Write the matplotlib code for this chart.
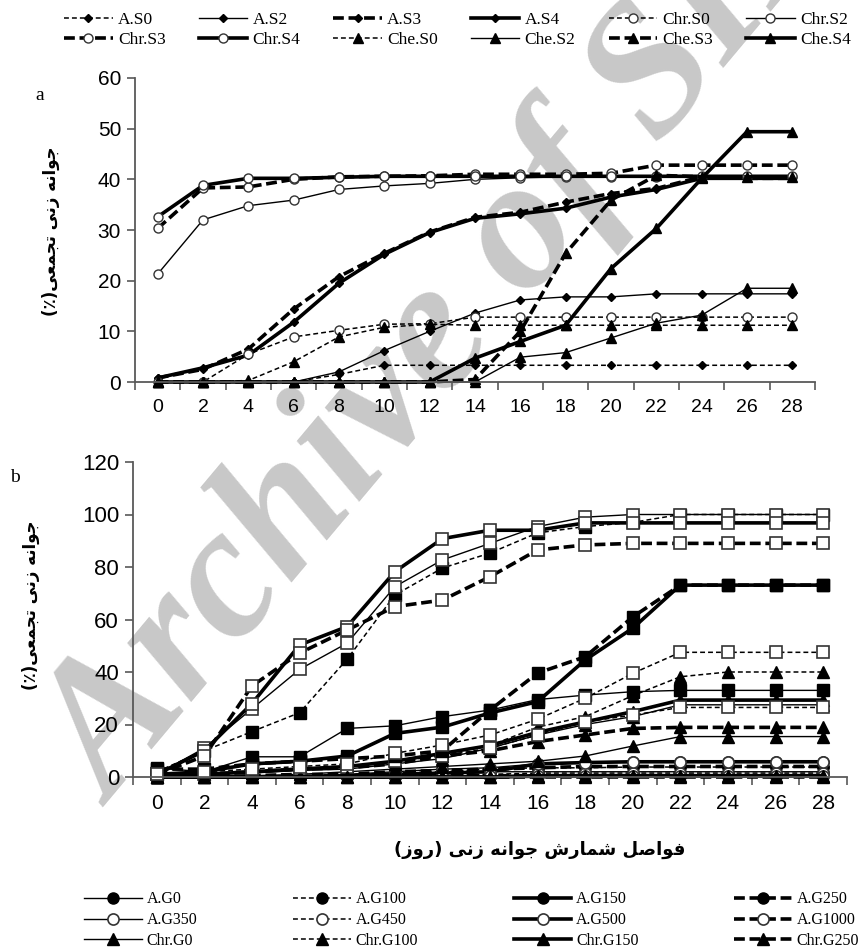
import numpy as np
import matplotlib.pyplot as plt

# ---------- data ----------
days = list(range(0, 29, 2))

# chart a : cumulative germination (%)
a_s0 = [0, 0, 0, 0, 1.5, 3.3, 3.3, 3.3, 3.3, 3.3, 3.3, 3.3, 3.3, 3.3, 3.3]
a_s2 = [0, 0, 0, 0, 2, 6.2, 10, 13.6, 16.2, 16.8, 16.8, 17.4, 17.4, 17.4, 17.4]
a_s3 = [0.8, 2.5, 6.5, 14.4, 20.8, 25.4, 29.6, 32.5, 33.5, 35.5, 37.2, 38.2, 40.5, 40.2, 40.2]
a_s4 = [0.8, 2.8, 5.3, 11.8, 19.5, 25.2, 29.5, 32.3, 33.2, 34.3, 36.5, 38, 40.2, 40.2, 40.2]
chr_s0 = [0, 0, 5.5, 8.9, 10.2, 11.4, 11.5, 12.8, 12.8, 12.8, 12.8, 12.8, 12.8, 12.8, 12.8]
chr_s2 = [21.3, 32, 34.8, 35.9, 38, 38.7, 39.2, 40, 40.3, 40.5, 40.5, 40.5, 40.5, 40.5, 40.5]
chr_s3 = [30.3, 38.3, 38.5, 40, 40.5, 40.6, 40.7, 41, 41, 41, 41.2, 42.8, 42.8, 42.8, 42.8]
chr_s4 = [32.6, 38.8, 40.2, 40.2, 40.4, 40.6, 40.6, 40.6, 40.6, 40.6, 40.6, 40.6, 40.6, 40.6, 40.6]
che_s0 = [0, 0, 0.3, 4, 8.9, 10.8, 11.4, 11.2, 11.2, 11.2, 11.2, 11.2, 11.2, 11.2, 11.2]
che_s2 = [0, 0, 0, 0, 0, 0, 0, 0, 4.9, 5.8, 8.7, 11.6, 13.2, 18.5, 18.5]
che_s3 = [0, 0, 0, 0, 0, 0, 0, 0.5, 10, 25.4, 35.9, 40.8, 40.5, 40.5, 40.5]
che_s4 = [0, 0, 0, 0, 0, 0, 0, 4.7, 8, 11.2, 22.4, 30.3, 40.2, 49.4, 49.4]

# chart b
a_g0 = [0, 0, 0, 0, 0.5, 1, 1.5, 2, 2, 2, 2, 2, 2, 2, 2]
a_g100 = [0, 0, 0, 0.5, 1, 1.5, 2, 3, 3.5, 3.5, 3.8, 3.8, 3.8, 3.8, 3.8]
a_g150 = [0, 0, 0, 0, 0, 0, 0, 0, 0.3, 0.3, 0.3, 0.3, 0.3, 0.3, 0.3]
a_g250 = [0, 0, 0.5, 1, 1, 2, 2.5, 3, 3.5, 4, 4, 4, 4, 4, 4]
a_g350 = [0, 0, 0, 0.5, 1, 2, 3, 3.5, 5, 5.5, 5.8, 5.8, 5.8, 5.8, 5.8]
a_g450 = [0, 0, 0, 0, 0, 0.5, 1, 1, 1.5, 1.5, 1.5, 1.5, 1.5, 1.5, 1.5]
a_g500 = [0, 0, 0, 0, 0.5, 1, 1.5, 2, 5, 5.5, 5.8, 5.8, 5.8, 5.8, 5.8]
a_g1000 = [0, 0, 0, 0, 0, 0, 0.5, 0.5, 0.5, 0.5, 0.5, 0.5, 0.5, 0.5, 0.5]
chr_g0 = [0, 0, 0.5, 1, 2, 3, 4, 5, 6, 8, 11.8, 15.4, 15.4, 15.4, 15.4]
chr_g100 = [0, 1, 2, 3, 4, 6, 9, 12, 19, 23, 31, 38.2, 40, 40, 40]
chr_g150 = [0, 1, 2, 3, 4, 6, 9, 12, 17, 21, 24.9, 29.3, 29.3, 29.3, 29.3]
chr_g250 = [0, 1, 2, 3, 3.5, 5, 8, 10, 13.5, 16, 18.5, 18.9, 18.9, 18.9, 18.9]
chr_g350 = [0, 1, 1.5, 2.5, 3, 5, 7, 11, 16, 20, 23, 27.5, 27.5, 27.5, 27.5]
chr_g450 = [1, 1, 2, 3, 4, 6, 8, 11, 16, 21, 23.6, 26.5, 26.5, 26.5, 26.5]
chr_g500 = [0, 0, 0, 0, 0, 0, 0, 0, 0.5, 0.5, 0.5, 0.5, 0.5, 0.5, 0.5]
chr_g1000 = [0, 0, 0, 0, 0, 0, 0, 0, 0, 0, 0, 0, 0, 0, 0]
che_g0 = [3.4, 2, 7.7, 7.7, 18.5, 19.5, 23, 25.5, 29.5, 31.2, 32.5, 33, 33, 33, 33]
che_g100 = [2, 10, 17.3, 24.5, 44.9, 69.3, 79.6, 85.3, 93, 95.4, 97, 100, 100, 100, 100]
che_g150 = [1, 2, 5, 6, 8, 16.6, 19, 24.4, 28.7, 44.6, 56.7, 73.1, 73.1, 73.1, 73.1]
che_g250 = [3, 3, 5, 6, 7, 8, 10, 25.5, 39.6, 45.8, 61, 73.1, 73.1, 73.1, 73.1]
che_g350 = [1, 11, 26, 41, 51, 72.5, 82.7, 89, 95.4, 99, 100, 100, 100, 100, 100]
che_g450 = [1, 2, 3, 4, 5, 9, 12.2, 16, 22, 30, 39.5, 47.5, 47.5, 47.5, 47.5]
che_g500 = [1, 10, 28, 50.3, 57.3, 78.2, 90.8, 94, 94, 96.8, 96.8, 96.8, 96.8, 96.8, 96.8]
che_g1000 = [1, 8, 34.7, 47.2, 56, 64.9, 67.4, 76.3, 86.5, 88.4, 89, 89, 89, 89, 89]

# Persian labels (presentation forms, visual order, since matplotlib has no RTL shaping)
ylabel_fa = "(\u066a)\ufef0\ufecc\ufee4\ufea0\ufe97 \ufef0\ufee7\ufeaf \ufeea\ufee7\ufe8d\ufeee\ufe9f"
xlabel_fa = ("(\ufeaf\ufeed\ufead) \ufef0\ufee7\ufeaf \ufeea\ufee7\ufe8d\ufeee\ufe9f "
             "\ufeb5\ufead\ufe8e\ufee4\ufeb7 \ufede\ufebb\ufe8d\ufeee\ufed3")

# ---------- styles ----------
LINES = {
    "thin": dict(lw=1.0, ls="-"),
    "thin_dash": dict(lw=1.1, ls=(0, (3.2, 2.0))),
    "thick": dict(lw=2.6, ls="-"),
    "thick_dash": dict(lw=2.6, ls=(0, (3.0, 1.3))),
}
MARKS = {
    "diamond": dict(marker="D", ms=4.5, mfc="black", mec="black"),
    "circ_open": dict(marker="o", ms=6.5, mfc="white", mec="#333333", mew=1.0),
    "tri": dict(marker="^", ms=6.5, mfc="black", mec="black"),
    "circ": dict(marker="o", ms=8, mfc="black", mec="black"),
    "circ_o": dict(marker="o", ms=8, mfc="white", mec="#333333", mew=1.2),
    "tri_b": dict(marker="^", ms=8, mfc="black", mec="black"),
    "sq": dict(marker="s", ms=8.5, mfc="black", mec="black"),
    "sq_o": dict(marker="s", ms=8.5, mfc="white", mec="#333333", mew=1.2),
}

treat_a = ["thin_dash", "thin", "thick_dash", "thick"]
series_a = [
    ("A.S0", a_s0), ("A.S2", a_s2), ("A.S3", a_s3), ("A.S4", a_s4),
    ("Chr.S0", chr_s0), ("Chr.S2", chr_s2), ("Chr.S3", chr_s3), ("Chr.S4", chr_s4),
    ("Che.S0", che_s0), ("Che.S2", che_s2), ("Che.S3", che_s3), ("Che.S4", che_s4),
]
marks_a = ["diamond"] * 4 + ["circ_open"] * 4 + ["tri"] * 4

treat_b = ["thin", "thin_dash", "thick", "thick_dash"] * 2
series_b = [
    ("A.G0", a_g0), ("A.G100", a_g100), ("A.G150", a_g150), ("A.G250", a_g250),
    ("A.G350", a_g350), ("A.G450", a_g450), ("A.G500", a_g500), ("A.G1000", a_g1000),
    ("Chr.G0", chr_g0), ("Chr.G100", chr_g100), ("Chr.G150", chr_g150), ("Chr.G250", chr_g250),
    ("Chr.G350", chr_g350), ("Chr.G450", chr_g450), ("Chr.G500", chr_g500), ("Chr.G1000", chr_g1000),
    ("Che.G0", che_g0), ("Che.G100", che_g100), ("Che.G150", che_g150), ("Che.G250", che_g250),
    ("Che.G350", che_g350), ("Che.G450", che_g450), ("Che.G500", che_g500), ("Che.G1000", che_g1000),
]
marks_b = (["circ"] * 4 + ["circ_o"] * 4 + ["tri_b"] * 4
           + ["tri_b", "sq_o", "tri_b", "tri_b"] + ["sq"] * 4 + ["sq_o"] * 4)

W, H = 863, 951
fig = plt.figure(figsize=(W / 100, H / 100), dpi=100)

# watermark, behind the axes
fig.text(113 / W, 1 - 807 / H, "Archive of SID", rotation=50, rotation_mode="anchor",
         ha="left", va="baseline", fontsize=135, family="Liberation Serif",
         style="italic", weight="bold", color="#c8c8c8", zorder=-1)


def style_axes(ax, ymax, ystep, fs):
    ax.set_facecolor("none")
    for s in ["top", "right"]:
        ax.spines[s].set_visible(False)
    for s in ["left", "bottom"]:
        ax.spines[s].set_color("#595959")
        ax.spines[s].set_linewidth(1.3)
    ax.set_xlim(-1, 29)
    ax.set_ylim(0, ymax)
    ax.set_yticks(np.arange(0, ymax + 1, ystep))
    ax.set_xticks(np.arange(-1, 30, 2))
    ax.set_xticklabels([])
    ax.set_xticks(days, minor=True)
    ax.set_xticklabels([str(d) for d in days], minor=True)
    ax.tick_params(axis="x", which="major", length=6, width=1.2, color="#595959", direction="out")
    ax.tick_params(axis="x", which="minor", length=0, pad=12, labelsize=fs)
    ax.tick_params(axis="y", length=6, width=1.2, color="#595959", labelsize=fs + 1, pad=4)
    for lab in ax.get_xticklabels(minor=True) + ax.get_yticklabels():
        lab.set_family("Liberation Sans")


def draw(ax, series, treats, marks):
    handles = []
    for (name, vals), t, m in zip(series, treats, marks):
        ln, = ax.plot(days, vals, color="black", label=name, clip_on=False,
                      **LINES[t], **MARKS[m])
        handles.append(ln)
    return handles


# chart a
ax1 = fig.add_axes([135 / W, 1 - 382 / H, 680 / W, 304 / H])
h1 = draw(ax1, series_a, treat_a * 3, marks_a)
style_axes(ax1, 60, 10, 14)

# chart b
ax2 = fig.add_axes([133 / W, 1 - 777 / H, 714 / W, 315 / H])
h2 = draw(ax2, series_b, treat_b * 3, marks_b)
style_axes(ax2, 120, 20, 15)

fig.text(40 / W, 1 - 95 / H, "a", fontsize=14, family="Liberation Serif", ha="center", va="center")
fig.text(15 / W, 1 - 477 / H, "b", fontsize=14, family="Liberation Serif", ha="center", va="center")

fig.text(51 / W, 1 - 231 / H, ylabel_fa, rotation=90, fontsize=12, weight="bold",
         family="DejaVu Sans", ha="center", va="center")
fig.text(31 / W, 1 - 605 / H, ylabel_fa, rotation=90, fontsize=12, weight="bold",
         family="DejaVu Sans", ha="center", va="center")
fig.text(540 / W, 1 - 850 / H, xlabel_fa, fontsize=13, weight="bold",
         family="DejaVu Sans", ha="center", va="center")

# top legend: 2 rows x 6 columns, filled row by row
ncol = 6
order = [r * ncol + c for c in range(ncol) for r in range(2)]
fig.legend([h1[i] for i in order], [series_a[i][0] for i in order],
           loc="upper center", bbox_to_anchor=(0.53, 1.004), ncol=ncol, frameon=False,
           handlelength=2.8, handletextpad=0.3, columnspacing=1.9, labelspacing=0.2,
           prop={"family": "Liberation Serif", "size": 12.5})

# bottom legend: only the first three rows are visible in the figure
n_vis = 12
ncol = 4
nrow = n_vis // ncol
order = [r * ncol + c for c in range(ncol) for r in range(nrow)]
fig.legend([h2[i] for i in order], [series_b[i][0] for i in order],
           loc="upper left", bbox_to_anchor=(70 / W, 1 - 877 / H), ncol=ncol, frameon=False,
           handlelength=3.6, handletextpad=0.3, columnspacing=6.0, labelspacing=0.3,
           prop={"family": "Liberation Serif", "size": 11.5})

fig.savefig("out.png", dpi=100)
